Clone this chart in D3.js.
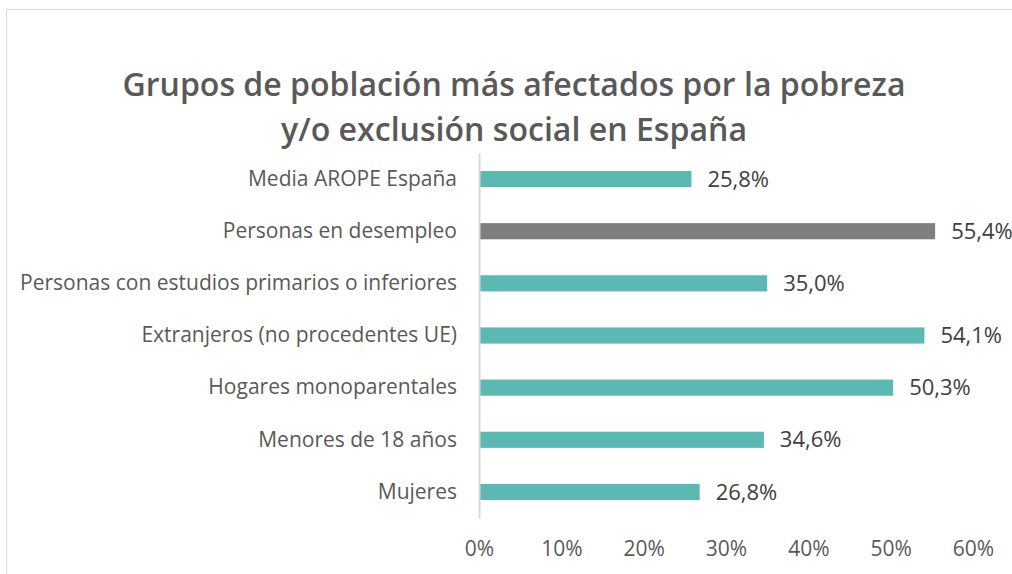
<!DOCTYPE html>
<html>
<head>
<meta charset="utf-8">
<script src="https://cdn.jsdelivr.net/npm/d3@7"></script>
<style>
  body { margin: 0; background: #fff; }
  text { font-family: "Open Sans", sans-serif; }
</style>
</head>
<body>
<div id="chart"></div>
<script>
const categories = [
  'Media AROPE España',
  'Personas en desempleo',
  'Personas con estudios primarios o inferiores',
  'Extranjeros (no procedentes UE)',
  'Hogares monoparentales',
  'Menores de 18 años',
  'Mujeres'
];
const values = [25.8, 55.4, 35.0, 54.1, 50.3, 34.6, 26.8];
const highlighted = ['Personas en desempleo'];
const xTicks = [0, 10, 20, 30, 40, 50, 60];
const titleLines = ['Grupos de población más afectados por la pobreza', 'y/o exclusión social en España'];

const width = 1012;
const height = 574;

const svg = d3.select('#chart')
  .append('svg')
  .attr('width', width)
  .attr('height', height);

// chart frame (cut off right/bottom like the source)
svg.append('rect')
  .attr('x', 6.5)
  .attr('y', 9.5)
  .attr('width', 1100)
  .attr('height', 700)
  .attr('fill', '#fff')
  .attr('stroke', '#d9d9d9')
  .attr('stroke-width', 1);

const title = svg.append('g').attr('class', 'title');
titleLines.forEach((t, i) => {
  title.append('text')
    .text(t)
    .attr('x', 514)
    .attr('y', 96 + i * 45)
    .attr('text-anchor', 'middle')
    .attr('font-weight', 600)
    .attr('font-size', '33px')
    .attr('fill', '#595959');
});
// squeeze the title to the narrow look of the original
title.selectAll('text').each(function (d, i) {
  const target = i === 0 ? 783 : 466;
  const w = this.getComputedTextLength();
  if (w > target) {
    d3.select(this)
      .attr('textLength', target)
      .attr('lengthAdjust', 'spacingAndGlyphs');
  }
});

const x = d3.scaleLinear()
  .domain([0, 60])
  .range([479, 973]);

const y = d3.scaleBand()
  .domain(categories)
  .range([153, 518])
  .paddingInner(0.69)
  .paddingOuter(0.345);

const bars = svg.selectAll('.bar')
  .data(categories)
  .enter()
  .append('g');

bars.append('rect')
  .attr('class', 'bar')
  .attr('x', x(0))
  .attr('y', d => y(d))
  .attr('width', (d, i) => x(values[i]) - x(0))
  .attr('height', y.bandwidth())
  .attr('fill', d => highlighted.includes(d) ? '#7f7f7f' : '#5bb8b3');

bars.append('text')
  .text((d, i) => values[i].toFixed(1).replace('.', ',') + '%')
  .attr('x', (d, i) => x(values[i]) + 16)
  .attr('y', d => y(d) + y.bandwidth() / 2)
  .attr('dy', '0.35em')
  .attr('font-size', '22px')
  .attr('fill', '#404040');

const yAxis = d3.axisLeft(y).tickSize(0).tickPadding(22);
const gy = svg.append('g')
  .attr('transform', 'translate(' + x(0) + ',0)')
  .call(yAxis);
gy.select('.domain').attr('stroke', '#d9d9d9').attr('stroke-width', 2);
gy.selectAll('text')
  .attr('font-size', '21px')
  .attr('fill', '#595959')
  .attr('font-family', '"Open Sans", sans-serif');

const xAxis = d3.axisBottom(x)
  .tickValues(xTicks)
  .tickFormat(d => d + '%')
  .tickSize(0)
  .tickPadding(0);
const gx = svg.append('g')
  .attr('transform', 'translate(0,541)')
  .call(xAxis);
gx.select('.domain').remove();
gx.selectAll('text')
  .attr('font-size', '21px')
  .attr('fill', '#595959')
  .attr('font-family', '"Open Sans", sans-serif');
</script>
</body>
</html>
